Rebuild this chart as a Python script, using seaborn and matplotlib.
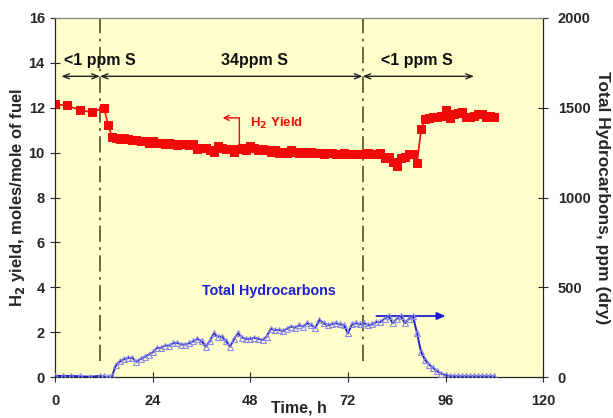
import matplotlib
matplotlib.use('Agg')
import matplotlib.pyplot as plt
import seaborn as sns
import numpy as np
import pandas as pd

# H2 yield (moles/mole of fuel) vs time
h2_time = [0, 3, 6, 9, 12, 13, 14] + list(range(15, 109))
h2_yield = [12.15, 12.1, 11.9, 11.8, 12.0, 11.25, 10.7,
            10.65, 10.6, 10.65, 10.6, 10.55, 10.55, 10.5, 10.5, 10.45, 10.5,
            10.45, 10.45, 10.4, 10.45, 10.4, 10.35, 10.4, 10.4, 10.35, 10.4,
            10.15, 10.2, 10.2, 10.1, 10.05, 10.3, 10.2, 10.15, 10.15, 10.05,
            10.15, 10.2, 10.1, 10.3, 10.2, 10.1, 10.15, 10.1, 10.05, 10.1,
            10.0, 10.05, 10.0, 10.1, 10.05, 10.0, 10.05, 10.0, 10.05, 10.0,
            10.0, 9.95, 10.0, 10.0, 9.95, 9.95, 10.0, 9.95, 9.95, 9.95,
            9.95, 9.95, 10.0, 9.95, 9.95, 10.0, 9.75, 9.8, 9.6, 9.4,
            9.75, 9.8, 9.95, 9.95, 9.55, 11.05, 11.5, 11.55, 11.6, 11.6,
            11.65, 11.9, 11.55, 11.7, 11.75, 11.8, 11.6, 11.6, 11.65, 11.7,
            11.7, 11.6, 11.65, 11.6]

# Total hydrocarbons (ppm, dry) vs time
thc_time = [0, 2, 4, 6, 8.5, 11, 12, 13, 14] + list(range(15, 109))
thc_ppm = [6, 6, 6, 4, 2, 6, 3, 0, 6,
           69, 88, 100, 106, 106, 85, 100, 112, 125, 138,
           162, 162, 175, 175, 188, 190, 181, 181, 188, 200,
           212, 200, 169, 200, 244, 225, 225, 200, 169, 212,
           244, 219, 212, 212, 219, 212, 206, 225, 269, 262,
           262, 256, 269, 281, 275, 288, 281, 300, 288, 275,
           319, 300, 288, 294, 300, 294, 288, 244, 294, 300,
           294, 300, 288, 294, 306, 306, 325, 338, 300, 325,
           338, 300, 325, 338, 244, 138, 94, 69, 50, 31,
           19, 10, 6, 4, 4, 4, 4, 4, 4, 4,
           4, 4, 4, 4]

x_ticks = [0, 24, 48, 72, 96, 120]
left_ticks = [0, 2, 4, 6, 8, 10, 12, 14, 16]
right_ticks = [0, 500, 1000, 1500, 2000]
switch_times = [11, 75.6]

h2_df = pd.DataFrame({'time': h2_time, 'h2': h2_yield})
thc_df = pd.DataFrame({'time': thc_time, 'thc': thc_ppm})

sns.set_style('ticks')
plt.rcParams['font.family'] = ['Liberation Sans', 'DejaVu Sans']
plt.rcParams['font.weight'] = 'bold'

fig, ax = plt.subplots(figsize=(6.13, 4.18), dpi=100)
fig.subplots_adjust(left=0.09, right=0.886, bottom=0.098, top=0.957)
ax.set_facecolor('#FFFFCC')
ax2 = ax.twinx()

red = '#F00A0A'
blue = '#1E1ED2'

sns.lineplot(data=h2_df, x='time', y='h2', ax=ax, color=red, lw=1.2,
             marker='s', markersize=5.5, markeredgecolor=red, zorder=4)
sns.lineplot(data=thc_df, x='time', y='thc', ax=ax2, color=blue, lw=1.4,
             marker='^', markersize=5, markerfacecolor='none',
             markeredgecolor='#8C8CE6', markeredgewidth=0.8, zorder=4)

for t in switch_times:
    ax.axvline(t, ymin=0.7 / 16, ymax=1, color='#5E5E2E', lw=1.3,
               ls=(0, (9, 3, 1.5, 3)), zorder=2)

ax.set_xlim(0, 120)
ax.set_ylim(0, 16)
ax2.set_ylim(0, 2000)
ax.set_xticks(x_ticks)
ax.set_yticks(left_ticks)
ax2.set_yticks(right_ticks)

for a in (ax, ax2):
    a.tick_params(direction='inout', length=7, width=0.8, labelsize=10.5)
ax.tick_params(axis='x', pad=9)
ax.tick_params(axis='y', pad=4)
ax2.tick_params(axis='y', pad=7)
for s in ['left', 'bottom', 'right']:
    ax.spines[s].set_color('#222222')
    ax2.spines[s].set_color('#222222')
ax2.spines['top'].set_color('#888888')
ax2.spines['top'].set_linewidth(0.8)

ax.set_xlabel('Time, h', fontsize=11.5, fontweight='bold', labelpad=-6)
ax.set_ylabel('H$_\\mathbf{2}$ yield, moles/mole of fuel', fontsize=12,
              fontweight='bold', labelpad=1)
ax2.set_ylabel('Total Hydrocarbons, ppm (dry)', fontsize=12.5,
               fontweight='bold', rotation=-90, labelpad=14)

# sulfur regime arrows
arrow_y = 13.4
bounds = [1.5, switch_times[0], switch_times[1], 103]
labels = ['<1 ppm S', '34ppm S', '<1 ppm S']
label_x = [11, 49, 89]
for i, lab in enumerate(labels):
    ax.annotate('', xy=(bounds[i], arrow_y), xytext=(bounds[i + 1], arrow_y),
                arrowprops=dict(arrowstyle='<->,head_length=0.45,head_width=0.18',
                                color='#222222', lw=1, shrinkA=0, shrinkB=0))
    ax.text(label_x[i], 14.1, lab, ha='center', va='center', fontsize=11.5,
            fontweight='bold', color='#111111')

# H2 yield callout
ax.annotate('', xy=(45.3, 11.55), xytext=(45.3, 10.25),
            arrowprops=dict(arrowstyle='-', color=red, lw=1,
                            shrinkA=0, shrinkB=0))
ax.annotate('', xy=(41.2, 11.55), xytext=(45.3, 11.55),
            arrowprops=dict(arrowstyle='->,head_length=0.35,head_width=0.18',
                            color=red, lw=1, shrinkA=0, shrinkB=0))
ax.text(47.8, 11.3, 'H$_\\mathbf{2}$ Yield', color=red, fontsize=9.5,
        fontweight='bold', va='center', ha='left')

# Total hydrocarbons callout
ax.annotate('', xy=(96, 2.72), xytext=(79, 2.72),
            arrowprops=dict(arrowstyle='-|>,head_length=0.5,head_width=0.22',
                            color=blue, lw=1.3, shrinkA=0, shrinkB=0))
ax.text(52.5, 3.85, 'Total Hydrocarbons', color=blue, fontsize=10.3,
        fontweight='bold', ha='center', va='center')

plt.savefig('out.png', dpi=100)
